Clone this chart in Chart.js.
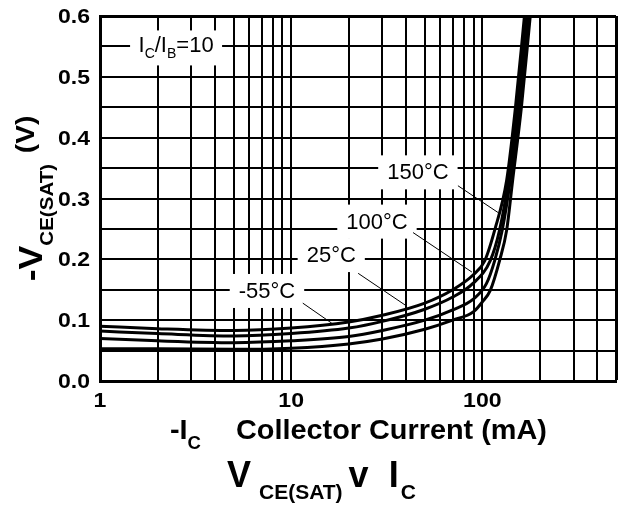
<!DOCTYPE html>
<html>
<head>
<meta charset="utf-8">
<script src="https://cdn.jsdelivr.net/npm/chart.js@4.4.1/dist/chart.umd.min.js"></script>
<style>
  html, body { margin: 0; padding: 0; background: #fff; }
  #wrap { width: 621px; height: 506px; }
</style>
</head>
<body>
<div id="wrap"><canvas id="vce" width="621" height="506"></canvas></div>
<script>
// -VCE(sat) against -IC at IC/IB = 10, one curve per junction temperature
const current150 = [1, 2, 5, 10, 20, 30, 50, 70, 90, 103, 116, 134, 149, 166];
const vce150     = [0.090, 0.086, 0.083, 0.087, 0.097, 0.108, 0.128, 0.150, 0.175, 0.198, 0.248, 0.33, 0.45, 0.60];

const current100 = [1, 2, 5, 10, 20, 30, 50, 70, 89, 110, 123, 137, 153, 170];
const vce100     = [0.082, 0.078, 0.074, 0.078, 0.087, 0.098, 0.118, 0.138, 0.160, 0.198, 0.248, 0.33, 0.45, 0.60];

const current25  = [1, 2, 5, 10, 20, 30, 50, 70, 90, 105, 116, 127, 140, 156, 174];
const vce25      = [0.070, 0.066, 0.063, 0.066, 0.073, 0.083, 0.100, 0.117, 0.135, 0.160, 0.198, 0.248, 0.33, 0.45, 0.60];

const currentM55 = [1, 2, 5, 10, 20, 30, 50, 70, 90, 100, 110, 123, 134, 144, 160, 178];
const vceM55     = [0.053, 0.053, 0.052, 0.054, 0.061, 0.069, 0.085, 0.100, 0.114, 0.130, 0.149, 0.198, 0.248, 0.33, 0.45, 0.60];

const tempLabels = ['150°C', '100°C', '25°C', '-55°C'];

// grid positions and tick labels
const xGridValues = [1, 2, 3, 4, 5, 6, 7, 8, 9, 10, 20, 30, 40, 50, 60, 70, 80, 90, 100, 200, 300, 400, 500];
const xLabelValues = [1, 10, 100];
const xTickLabels = ['1', '10', '100'];
const yLabelValues = [0, 0.1, 0.2, 0.3, 0.4, 0.5, 0.6];
const yTickLabels = ['0.0', '0.1', '0.2', '0.3', '0.4', '0.5', '0.6'];

// label anchors and leader lines, in axis units (mA, V)
const callouts = [
  { text: tempLabels[0], at: [46, 0.343],  from: [74.5, 0.321], to: [120.7, 0.277] },
  { text: tempLabels[1], at: [28.1, 0.262], from: [43.4, 0.244], to: [88.2, 0.179] },
  { text: tempLabels[2], at: [16.2, 0.207], from: [22.4, 0.177], to: [39.4, 0.125] },
  { text: tempLabels[3], at: [7.47, 0.148], from: [11.5, 0.128], to: [16.3, 0.095] }
];

const FAMILY = '"Liberation Sans", Arial, sans-serif';

// draw a run of text pieces (for subscripts) starting at x, baseline y
function richWidth(ctx, runs) {
  let w = 0;
  runs.forEach(r => {
    ctx.font = (r.bold ? 'bold ' : '') + r.size + 'px ' + FAMILY;
    w += ctx.measureText(r.text).width + (r.gap || 0);
  });
  return w;
}
function drawRich(ctx, runs, x, y, align, sx) {
  sx = sx || 1;
  const w = richWidth(ctx, runs) * sx;
  let x0 = x;
  if (align === 'center') x0 = x - w / 2;
  else if (align === 'right') x0 = x - w;
  ctx.save();
  ctx.translate(x0, y);
  ctx.scale(sx, 1);
  ctx.textBaseline = 'alphabetic';
  ctx.textAlign = 'left';
  let cx = 0;
  runs.forEach(r => {
    ctx.font = (r.bold ? 'bold ' : '') + r.size + 'px ' + FAMILY;
    ctx.fillText(r.text, cx, r.dy || 0);
    cx += ctx.measureText(r.text).width + (r.gap || 0);
  });
  ctx.restore();
}

const vceText = {
  id: 'vceText',
  beforeDatasetsDraw(chart) {
    const ctx = chart.ctx;
    const xs = chart.scales.x, ys = chart.scales.y;
    ctx.save();
    ctx.fillStyle = '#000';

    // IC/IB = 10 box
    const bx = xs.getPixelForValue(2.5), by = ys.getPixelForValue(0.55);
    ctx.fillStyle = '#fff';
    ctx.fillRect(bx - 46, by - 16, 92, 35);
    ctx.fillStyle = '#000';
    drawRich(ctx, [
      { text: 'I', size: 22 },
      { text: 'C', size: 14, dy: 6 },
      { text: '/I', size: 22 },
      { text: 'B', size: 14, dy: 6 },
      { text: '=10', size: 22 }
    ], bx, by + 6, 'center');

    // temperature labels with leader lines
    callouts.forEach(c => {
      const px = xs.getPixelForValue(c.at[0]), py = ys.getPixelForValue(c.at[1]);
      ctx.font = '22px ' + FAMILY;
      const w = ctx.measureText(c.text).width;
      ctx.fillStyle = '#fff';
      ctx.fillRect(px - w / 2 - 9, py - 17, w + 18, 34);
      ctx.fillStyle = '#000';
      ctx.textAlign = 'center';
      ctx.textBaseline = 'middle';
      ctx.fillText(c.text, px, py + 1);
      ctx.beginPath();
      ctx.lineWidth = 1;
      ctx.strokeStyle = '#000';
      ctx.moveTo(xs.getPixelForValue(c.from[0]), ys.getPixelForValue(c.from[1]));
      ctx.lineTo(xs.getPixelForValue(c.to[0]), ys.getPixelForValue(c.to[1]));
      ctx.stroke();
    });
    ctx.restore();
  },
  afterDraw(chart) {
    const ctx = chart.ctx;
    const xs = chart.scales.x, ys = chart.scales.y;
    const area = chart.chartArea;
    ctx.save();
    ctx.fillStyle = '#000';

    // tick labels
    yLabelValues.forEach((v, i) => {
      drawRich(ctx, [{ text: yTickLabels[i], size: 20, bold: true }], area.left - 10, ys.getPixelForValue(v) + 7, 'right', 1.15);
    });
    xLabelValues.forEach((v, i) => {
      drawRich(ctx, [{ text: xTickLabels[i], size: 21, bold: true }], xs.getPixelForValue(v), area.bottom + 26, 'center', 1.1);
    });

    // x axis title
    drawRich(ctx, [
      { text: '-I', size: 28, bold: true },
      { text: 'C', size: 18, bold: true, dy: 10, gap: 34 },
      { text: 'Collector Current (mA)', size: 28, bold: true }
    ], 170, 439, 'left', 1.03);

    // chart title
    drawRich(ctx, [
      { text: 'V', size: 36, bold: true, gap: 8 },
      { text: 'CE(SAT)', size: 21, bold: true, dy: 12, gap: 6 },
      { text: 'v', size: 36, bold: true, gap: 20 },
      { text: 'I', size: 36, bold: true, gap: 2 },
      { text: 'C', size: 21, bold: true, dy: 12 }
    ], 227, 487, 'left');

    // y axis title, rotated
    ctx.translate(42, (area.top + area.bottom) / 2);
    ctx.rotate(-Math.PI / 2);
    drawRich(ctx, [
      { text: '-V', size: 33, bold: true },
      { text: 'CE(SAT)', size: 19, bold: true, dy: 11, gap: 10 },
      { text: '(V)', size: 26, bold: true, dy: -8 }
    ], 0, 0, 'center', 1.08);
    ctx.restore();
  }
};

function series(xs, ys) {
  return xs.map((x, i) => ({ x: x, y: ys[i] }));
}
function curve(label, xs, ys) {
  return {
    label: label,
    data: series(xs, ys),
    borderColor: '#000',
    borderWidth: 3,
    pointRadius: 0,
    fill: false,
    cubicInterpolationMode: 'monotone'
  };
}

new Chart(document.getElementById('vce'), {
  type: 'line',
  data: {
    datasets: [
      curve(tempLabels[0], current150, vce150),
      curve(tempLabels[1], current100, vce100),
      curve(tempLabels[2], current25, vce25),
      curve(tempLabels[3], currentM55, vceM55)
    ]
  },
  options: {
    responsive: false,
    animation: false,
    layout: { padding: { left: 100, top: 16, right: 5, bottom: 125 } },
    plugins: { legend: { display: false }, tooltip: { enabled: false } },
    scales: {
      x: {
        type: 'logarithmic',
        min: 1,
        max: 500,
        afterBuildTicks: s => { s.ticks = xGridValues.map(v => ({ value: v })); },
        ticks: { display: false },
        grid: {
          color: '#000',
          lineWidth: c => (c.tick && c.tick.value === 500 ? 3 : 2),
          drawTicks: false
        },
        border: { display: true, color: '#000', width: 3 }
      },
      y: {
        type: 'linear',
        min: 0,
        max: 0.6,
        ticks: { display: false, stepSize: 0.05 },
        grid: {
          color: '#000',
          lineWidth: c => (c.tick && c.tick.value > 0.59 ? 3 : 2),
          drawTicks: false
        },
        border: { display: true, color: '#000', width: 3 }
      }
    }
  },
  plugins: [vceText]
});
</script>
</body>
</html>
